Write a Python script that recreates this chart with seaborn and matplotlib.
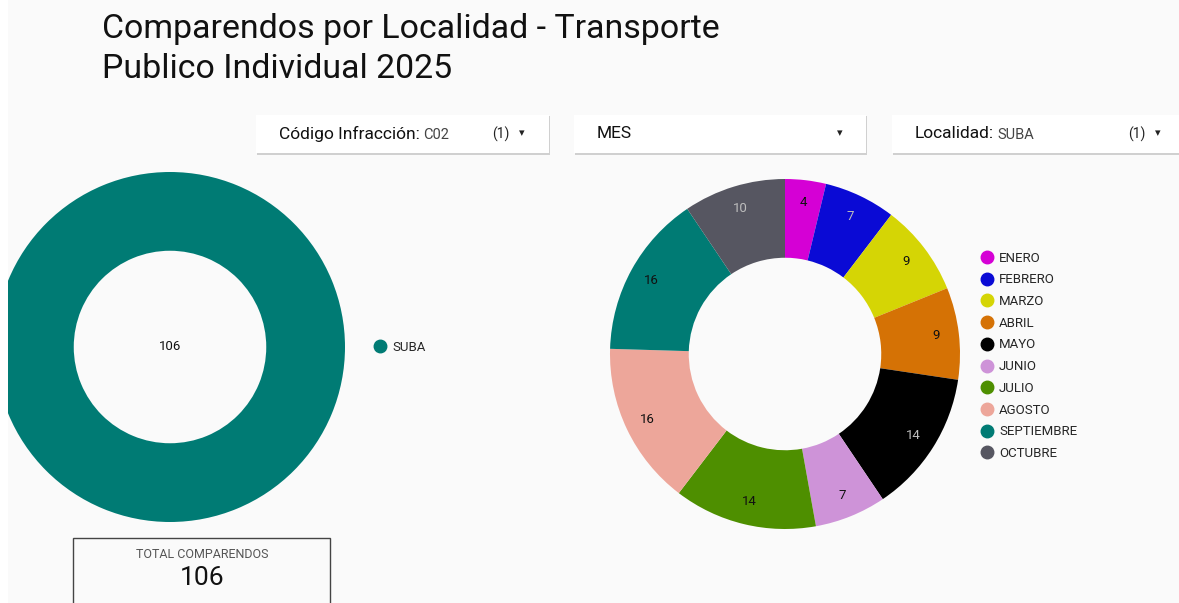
import numpy as np
import pandas as pd
import matplotlib.pyplot as plt
import seaborn as sns
from matplotlib.patches import Rectangle, FancyBboxPatch
from matplotlib.lines import Line2D

# data
localidades = ["SUBA"]
localidad_vals = [106]
localidad_colors = ["#007b74"]

meses = ["ENERO", "FEBRERO", "MARZO", "ABRIL", "MAYO", "JUNIO",
         "JULIO", "AGOSTO", "SEPTIEMBRE", "OCTUBRE"]
mes_vals = [4, 7, 9, 9, 14, 7, 14, 16, 16, 10]
mes_colors = ["#d500d5", "#0a0ad5", "#d5d505", "#d57205", "#000000",
              "#ce93d8", "#4e8f00", "#eda69a", "#007b74", "#565661"]
light_label = ["FEBRERO", "MAYO", "OCTUBRE"]

total = sum(mes_vals)

sns.set_theme(style="white")
plt.rcParams["font.family"] = ["Roboto", "DejaVu Sans"]

W, H = 1179, 603
fig = plt.figure(figsize=(W / 100, H / 100), dpi=100, facecolor="#fafafa")


def box(x0, y0, x1, y1):
    # pixel box (top-left origin) -> figure fraction rect
    return [x0 / W, 1 - y1 / H, (x1 - x0) / W, (y1 - y0) / H]


def fx(x):
    return x / W


def fy(y):
    return 1 - y / H


# title
fig.text(fx(102), fy(13), "Comparendos por Localidad - Transporte\nPublico Individual 2025",
         fontsize=24.4, color="#111111", va="top", ha="left", linespacing=1.3)

# filter boxes
filters = [
    (256, 549, "Código Infracción", "C02", "(1)"),
    (574, 866, "MES", "", ""),
    (892, 1190, "Localidad", "SUBA", "(1)"),
]
for x0, x1, name, val, cnt in filters:
    shadow = FancyBboxPatch((fx(x0 + 1), fy(155)), fx(x1) - fx(x0), fy(116) - fy(155),
                            boxstyle="square,pad=0", transform=fig.transFigure,
                            facecolor="#d0d0d0", edgecolor="none", zorder=1)
    fig.patches.append(shadow)
    rect = FancyBboxPatch((fx(x0), fy(153)), fx(x1) - fx(x0), fy(115) - fy(153),
                          boxstyle="square,pad=0", transform=fig.transFigure,
                          facecolor="white", edgecolor="none", zorder=2)
    fig.patches.append(rect)
    if val:
        t = fig.text(fx(x0 + 23), fy(134), name + ":", fontsize=12.5, color="#111111",
                     va="center", ha="left", zorder=3)
        fig.canvas.draw()
        bb = t.get_window_extent()
        fig.text(bb.x1 / W + fx(3), fy(135), val, fontsize=10.5, color="#444444",
                 va="center", ha="left", zorder=3)
        fig.text(fx(x0 + 236), fy(134), cnt, fontsize=10, color="#222222",
                 va="center", ha="left", zorder=3)
    else:
        fig.text(fx(x0 + 23), fy(134), name, fontsize=12.5, color="#111111",
                 va="center", ha="left", zorder=3)
    fig.text(fx(x0 + 266), fy(133), "▾", fontsize=8, color="#222222",
             va="center", ha="center", zorder=3)

# left donut: comparendos por localidad
ax1 = fig.add_axes(box(-5, 172, 345, 522))
ax1.pie(localidad_vals, colors=localidad_colors, startangle=90, counterclock=False,
        radius=1, wedgeprops=dict(width=0.45, edgecolor="none"))
ax1.set_xlim(-1, 1)
ax1.set_ylim(-1, 1)
ax1.text(0, 0, str(localidad_vals[0]), ha="center", va="center", fontsize=9.5, color="#111111")
fig.legend(handles=[Line2D([], [], marker="o", linestyle="none", markersize=9,
                           color=c, label=l) for l, c in zip(localidades, localidad_colors)],
           loc="center left", bbox_to_anchor=(fx(365), fy(347)), frameon=False,
           fontsize=9.5, handletextpad=0.35, borderpad=0, handlelength=1.2)

# right donut: comparendos por mes
ax2 = fig.add_axes(box(610, 179, 960, 529))
wedges, _, autotexts = ax2.pie(
    mes_vals, colors=mes_colors, startangle=90, counterclock=False, radius=1,
    wedgeprops=dict(width=0.45, edgecolor="none"),
    autopct=lambda p: f"{round(p * total / 100):d}", pctdistance=0.87,
    textprops=dict(fontsize=9.5))
for m, t in zip(meses, autotexts):
    t.set_color("#bdbdbd" if m in light_label else "#111111")
ax2.set_xlim(-1, 1)
ax2.set_ylim(-1, 1)

handles = [Line2D([], [], marker="o", linestyle="none", markersize=9, color=c, label=m)
           for m, c in zip(meses, mes_colors)]
fig.legend(handles=handles, loc="upper left", bbox_to_anchor=(fx(972), fy(245)),
           frameon=False, fontsize=9.5, handletextpad=0.35, borderpad=0,
           handlelength=1.2, labelspacing=0.66)

# total box
tot = Rectangle((fx(73), fy(620)), fx(330) - fx(73), fy(538) - fy(620),
                transform=fig.transFigure, facecolor="#fafafa", edgecolor="#444444",
                linewidth=1)
fig.patches.append(tot)
fig.text(fx(202), fy(554), "TOTAL COMPARENDOS", fontsize=9, color="#555555",
         ha="center", va="center")
fig.text(fx(202), fy(578), str(total), fontsize=19, color="#111111",
         ha="center", va="center")

# white strip on the left edge (panel border)
fig.patches.append(Rectangle((0, 0), fx(8), 1, transform=fig.transFigure,
                             facecolor="white", edgecolor="none", zorder=10))

plt.savefig("out.png", dpi=100, facecolor=fig.get_facecolor())
